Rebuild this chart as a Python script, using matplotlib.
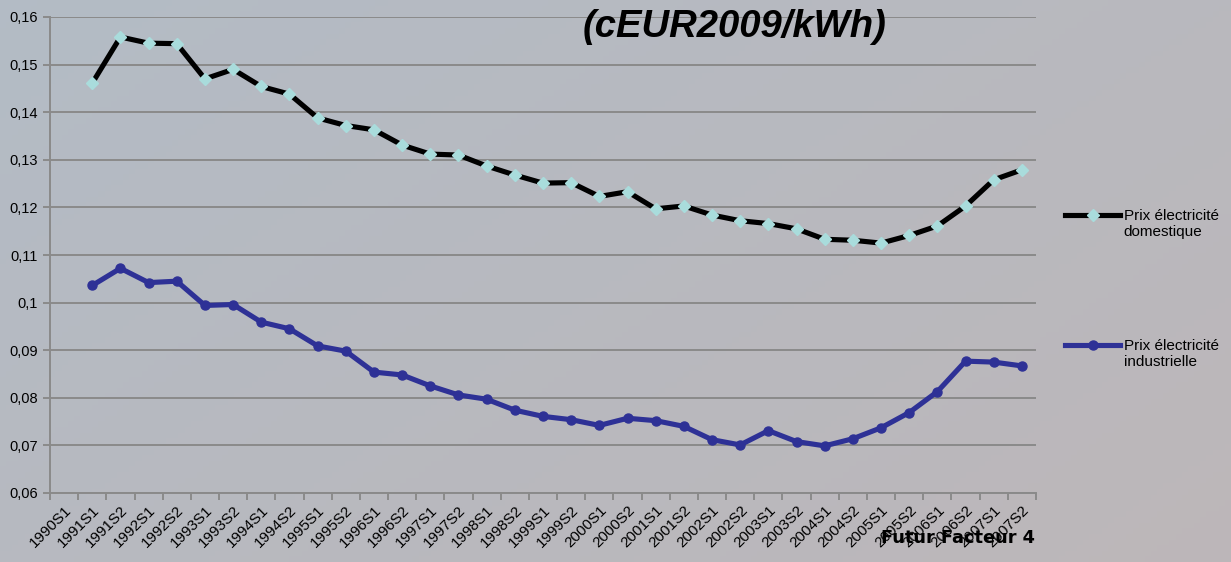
import numpy as np
import matplotlib
matplotlib.use("Agg")
import matplotlib.pyplot as plt
from matplotlib.ticker import FuncFormatter, MultipleLocator
from matplotlib.legend_handler import HandlerLine2D

categories = ["1990S1"] + [f"{y}S{s}" for y in range(1991, 2008) for s in (1, 2)]

domestique = [None,
    0.1461, 0.1558, 0.1545, 0.1544, 0.1470, 0.1490, 0.1454, 0.1438,
    0.1388, 0.1372, 0.1363, 0.1331, 0.1312, 0.1310, 0.1287, 0.1268,
    0.1251, 0.1252, 0.1223, 0.1233, 0.1197, 0.1203, 0.1184, 0.1172,
    0.1166, 0.1155, 0.1133, 0.1131, 0.1125, 0.1141, 0.1161, 0.1203,
    0.1258, 0.1279]

industrielle = [None,
    0.1036, 0.1072, 0.1042, 0.1045, 0.0994, 0.0996, 0.0959, 0.0945,
    0.0909, 0.0898, 0.0854, 0.0848, 0.0825, 0.0806, 0.0797, 0.0774,
    0.0761, 0.0754, 0.0742, 0.0757, 0.0752, 0.0740, 0.0712, 0.0701,
    0.0731, 0.0708, 0.0699, 0.0714, 0.0737, 0.0769, 0.0813, 0.0877,
    0.0875, 0.0867]

series_labels = ["Prix électricité\ndomestique", "Prix électricité\nindustrielle"]

W, H = 1231, 562
fig = plt.figure(figsize=(W / 100, H / 100), dpi=100)

# cloudy background gradient
bg = fig.add_axes([0, 0, 1, 1], zorder=-10)
gx, gy = np.meshgrid(np.linspace(0, 1, 200), np.linspace(0, 1, 100))
top_left = np.array([180, 189, 199]) / 255
bot_right = np.array([192, 183, 184]) / 255
mid = np.array([176, 182, 190]) / 255
t = (gx * 0.6 + gy * 0.4)
img = (top_left[None, None, :] * (1 - t[..., None]) + bot_right[None, None, :] * t[..., None])
img = img * 0.8 + mid[None, None, :] * 0.2
bg.imshow(img, aspect="auto", extent=[0, 1, 0, 1], origin="upper")
bg.set_axis_off()

ax = fig.add_axes([50 / W, 1 - 493 / H, (1036 - 50) / W, (493 - 17) / H])
ax.patch.set_alpha(0)

x = np.arange(len(categories))
d = np.array([np.nan if v is None else v for v in domestique], dtype=float)
i = np.array([np.nan if v is None else v for v in industrielle], dtype=float)

ax.plot(x, d, color="black", lw=3.7, marker="D", ms=6.5, mfc="#a9dcdc", mec="#a9dcdc",
        label=series_labels[0], zorder=3)
ax.plot(x, i, color="#2e3196", lw=3.7, marker="o", ms=6.5, mfc="#2e3196", mec="#2e3196",
        label=series_labels[1], zorder=3)

ax.set_xlim(-0.5, len(categories) - 0.5)
ax.set_ylim(0.06, 0.16)
ax.yaxis.set_major_locator(MultipleLocator(0.01))


def yfmt(v, p):
    s = f"{v:.2f}".replace(".", ",")
    if abs(v - 0.10) < 1e-9:
        s = "0,1"
    return s


ax.yaxis.set_major_formatter(FuncFormatter(yfmt))
ax.grid(axis="y", color="#8a8a8a", lw=1.4)
ax.set_axisbelow(True)

ax.set_xticks(x)
ax.set_xticklabels(categories, rotation=45, ha="right", rotation_mode="anchor",
                   fontsize=11, family="Liberation Sans")
ax.set_xticks(np.arange(-0.5, len(categories) + 0.5, 1), minor=True)
ax.tick_params(axis="x", which="major", length=0, pad=7)
ax.tick_params(axis="x", which="minor", length=5, color="#8a8a8a", width=1.4)
ax.tick_params(axis="y", length=5, color="#8a8a8a", width=1.4, labelsize=10.5, pad=4)
for lab in ax.get_yticklabels():
    lab.set_family("Liberation Sans")

for s in ["top", "right"]:
    ax.spines[s].set_visible(False)
for s in ["left", "bottom"]:
    ax.spines[s].set_color("#8a8a8a")
    ax.spines[s].set_linewidth(1.4)


class TopHandler(HandlerLine2D):
    def create_artists(self, legend, orig_handle, xdescent, ydescent, width, height, fontsize, trans):
        arts = super().create_artists(legend, orig_handle, xdescent, ydescent, width, height, fontsize, trans)
        for a in arts:
            a.set_ydata(np.asarray(a.get_ydata(), dtype=float) + 0.62 * fontsize)
        return arts


handles = ax.get_lines()
leg = fig.legend(handles=handles, labels=series_labels, loc="upper left",
                 bbox_to_anchor=(1065 / W, 1 - 209 / H), frameon=False,
                 prop={"family": "Liberation Sans", "size": 11},
                 handlelength=3.6, labelspacing=6.55, handletextpad=0.25, borderpad=0,
                 borderaxespad=0,
                 handler_map={h: TopHandler() for h in handles})

fig.text(735 / W, 1 - 27 / H, "(cEUR2009/kWh)", ha="center", va="center",
         fontsize=27.5, fontweight="bold", style="italic", family="Liberation Sans")
fig.text(958 / W, 1 - 538 / H, "Futur Facteur 4", ha="center", va="center",
         fontsize=12.8, fontweight="bold", family="DejaVu Sans", zorder=10)

fig.savefig("out.png", dpi=100)
